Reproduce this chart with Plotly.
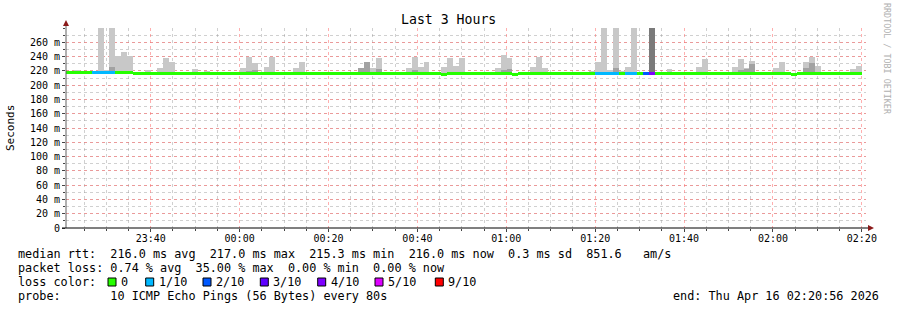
import pandas as pd
import plotly.graph_objects as go

N = None
# ---------------- data ----------------
TITLE = "Last 3 Hours"
END_TIME = "2026-04-16 02:20:56"
START_TIME = "2026-04-15 23:20:56"
FIRST_STEP_CENTER = "2026-04-15 23:20:43"   # centre of first (partial) 80 s step
STEP = "80s"

# median rtt per 80 s step (ms)
median = [
    217.5, 217.5, 217.5, 217.5, 217.5, 217.5, 217.5, 217.5, 217.5, 217.5, 217.5, 217.5, 216.0, 216.0, 216.0,
    216.0, 216.0, 216.0, 216.0, 216.0, 216.0, 216.0, 216.0, 216.0, 216.0, 216.0, 216.0, 216.0, 216.0, 216.0,
    216.0, 216.0, 216.0, 216.0, 216.0, 216.0, 216.0, 216.0, 216.0, 216.0, 216.0, 216.0, 216.0, 216.0, 216.0,
    216.0, 216.0, 216.0, 216.0, 216.0, 216.0, 216.0, 216.0, 216.0, 216.0, 216.0, 216.0, 216.0, 216.0, 216.0,
    216.0, 216.0, 216.0, 216.0, 215.0, 216.0, 216.0, 216.0, 216.0, 216.0, 216.0, 216.0, 216.0, 216.0, 216.0,
    216.0, 214.5, 216.0, 216.0, 216.0, 216.0, 216.0, 216.0, 216.0, 216.0, 216.0, 216.0, 216.0, 216.0, 216.0,
    216.0, 216.0, 216.0, 216.0, 216.0, 216.0, 216.0, 216.0, 216.0, 216.0, 216.0, 216.0, 216.0, 216.0, 216.0,
    216.0, 216.0, 216.0, 216.0, 216.0, 216.0, 216.0, 216.0, 216.0, 216.0, 216.0, 216.0, 216.0, 216.0, 216.0,
    216.0, 216.0, 216.0, 214.5, 216.0, 216.0, 216.0, 216.0, 216.0, 216.0, 216.0, 216.0, 216.0, 216.0, 216.0,
]
# lost pings (of 10) per step
loss = [
    0, 0, 0, 0, 0, 1, 1, 1, 1, 0, 0, 0, 0, 0, 0,
    0, 0, 0, 0, 0, 0, 0, 0, 0, 0, 0, 0, 0, 0, 0,
    0, 0, 0, 0, 0, 0, 0, 0, 0, 0, 0, 0, 0, 0, 0,
    0, 0, 0, 0, 0, 0, 0, 0, 0, 0, 0, 0, 0, 0, 0,
    0, 0, 0, 0, 0, 0, 0, 0, 0, 0, 0, 0, 0, 0, 0,
    0, 0, 0, 0, 0, 0, 0, 0, 0, 0, 0, 0, 0, 0, 0,
    1, 1, 1, 1, 0, 1, 1, 0, 2, 4, 0, 0, 0, 0, 0,
    0, 0, 0, 0, 0, 0, 0, 0, 0, 0, 0, 0, 0, 0, 0,
    0, 0, 0, 0, 0, 0, 0, 0, 0, 0, 0, 0, 0, 0, 0,
]
# smoke: max ping (outer, light shade)
smoke_max = [
    N, N, 221, N, N, N, 300, 221, 300, 241, 246, 240.5, N, N, 221,
    N, 224, 237.5, 233, N, N, N, 222, N, 220, N, N, N, N, N,
    224, 239.5, 231, N, 225, 239, N, N, N, 224, 233, N, N, N, N,
    N, N, N, N, N, 224, 232, 224, 238.5, N, N, N, N, 224, 239,
    225, 232, N, N, 225, 238, 227, 238, N, N, N, N, N, 224, 242,
    238, N, N, N, 225, 239.5, 224, N, N, N, N, N, N, N, 220,
    232, 300, 221, 300, 220, 225, 300, N, N, 300, N, N, 222, N, N,
    N, N, 225, 237, N, N, N, N, 225, 237, 224, 234, N, N, N,
    224, 232, N, N, N, 232, 239.5, 227, N, N, N, N, N, 222, 227,
]
# smoke: inner pings (darker shade)
smoke_dark = [
    N, N, N, N, N, N, N, N, 226, N, N, N, N, N, N,
    N, N, N, N, N, N, N, N, N, N, N, N, N, N, N,
    N, 220, 221, N, N, N, N, N, N, N, N, N, N, N, N,
    N, N, N, N, N, 224, 232, N, 223, N, N, N, N, N, 221,
    N, N, N, N, N, N, N, N, N, N, N, N, N, N, 221,
    222, N, N, N, N, N, N, N, N, N, N, N, N, N, N,
    N, N, N, 224, N, N, N, N, N, N, N, N, N, N, N,
    N, N, N, N, N, N, N, N, N, 221, 222, 230, N, N, N,
    N, N, N, N, N, 224, 231, N, N, N, N, N, N, N, N,
]
# smoke when few pings came back (darkest shade)
smoke_deep = [
    N, N, N, N, N, N, N, N, N, N, N, N, N, N, N,
    N, N, N, N, N, N, N, N, N, N, N, N, N, N, N,
    N, N, N, N, N, N, N, N, N, N, N, N, N, N, N,
    N, N, N, N, N, N, N, N, N, N, N, N, N, N, N,
    N, N, N, N, N, N, N, N, N, N, N, N, N, N, N,
    N, N, N, N, N, N, N, N, N, N, N, N, N, N, N,
    N, N, N, N, N, N, N, N, N, 300, N, N, N, N, N,
    N, N, N, N, N, N, N, N, N, N, N, N, N, N, N,
    N, N, N, N, N, N, N, N, N, N, N, N, N, N, N,
]

Y_TICKS = [0, 20, 40, 60, 80, 100, 120, 140, 160, 180, 200, 220, 240, 260]
Y_LABELS = ["0", "20 m", "40 m", "60 m", "80 m", "100 m", "120 m", "140 m", "160 m",
            "180 m", "200 m", "220 m", "240 m", "260 m"]

RTT_STATS = ["216.0", "217.0", "215.3", "216.0", "0.3", "851.6"]
LOSS_STATS = ["0.74", "35.00", "0.00", "0.00"]
LOSS_LABELS = ["0", "1/10", "2/10", "3/10", "4/10", "5/10", "9/10"]
LOSS_COLORS = ["#26ff00", "#00b8ff", "#0059ff", "#5e00ff", "#7e00ff", "#dd00ff", "#ff0000"]
LOSS_LEVEL_INDEX = {0: 0, 1: 1, 2: 2, 3: 3, 4: 4, 5: 5, 6: 6, 7: 6, 8: 6, 9: 6, 10: 6}
PROBE = "10 ICMP Echo Pings (56 Bytes) every 80s"
END_TEXT = "end: Thu Apr 16 02:20:56 2026"

# ---------------- figure ----------------
n = len(median)
centers = pd.date_range(FIRST_STEP_CENTER, periods=n, freq=STEP)
BAR_W = 80000  # ms

L, R, T, B = 66, 31, 28, 82
W, H = 897, 310
PW, PH = W - L - R, H - T - B


def px(x):
    return (x - L) / PW


def py(y):
    return (T + PH - y) / PH


MONO = "DejaVu Sans Mono"

fig = go.Figure()


def span(top):
    return [None if t is None else t - m for t, m in zip(top, median)]


fig.add_trace(go.Bar(x=centers, y=span(smoke_max), base=median, width=BAR_W,
                     marker=dict(color="#c8c8c8", line=dict(width=0)), hoverinfo="skip"))
fig.add_trace(go.Bar(x=centers, y=span(smoke_dark), base=median, width=BAR_W,
                     marker=dict(color="#a2a2a2", line=dict(width=0)), hoverinfo="skip"))
fig.add_trace(go.Bar(x=centers, y=span(smoke_deep), base=median, width=BAR_W,
                     marker=dict(color="#7a7a7a", line=dict(width=0)), hoverinfo="skip"))

LINE_H = 4.2
line_colors = [LOSS_COLORS[LOSS_LEVEL_INDEX[v]] for v in loss]
fig.add_trace(go.Bar(x=centers, y=[LINE_H] * n, base=[m - LINE_H / 2 for m in median], width=BAR_W,
                     marker=dict(color=line_colors, line=dict(width=0)), hoverinfo="skip"))

MAJ_GRID = "rgba(255,110,110,0.55)"
MIN_GRID = "rgba(150,150,150,0.45)"

fig.update_layout(
    width=W, height=H, margin=dict(l=L, r=R, t=T, b=B),
    paper_bgcolor="white", plot_bgcolor="white",
    barmode="overlay", bargap=0, showlegend=False,
    font=dict(family=MONO, color="#000"),
    xaxis=dict(
        type="date", range=[START_TIME, END_TIME],
        tick0="2026-04-15 23:40:00", dtick=1200000, tickformat="%H:%M",
        showgrid=True, gridcolor=MAJ_GRID, griddash="dot", gridwidth=1,
        minor=dict(tick0="2026-04-15 23:40:00", dtick=300000, showgrid=True,
                   gridcolor=MIN_GRID, griddash="dot", gridwidth=1,
                   ticks="outside", ticklen=2, tickcolor="#444"),
        ticks="outside", ticklen=3, tickcolor="#444",
        tickfont=dict(family=MONO, size=10, color="#000"),
        ticklabelstandoff=-2,
        showline=False, zeroline=False, fixedrange=True,
    ),
    yaxis=dict(
        range=[0, 280], tickmode="array", tickvals=Y_TICKS, ticktext=Y_LABELS,
        showgrid=True, gridcolor=MAJ_GRID, griddash="dot", gridwidth=1,
        minor=dict(tick0=0, dtick=10, showgrid=True, gridcolor=MIN_GRID, griddash="dot",
                   gridwidth=1, ticks="outside", ticklen=2, tickcolor="#444"),
        ticks="outside", ticklen=3, tickcolor="#444",
        tickfont=dict(family=MONO, size=10, color="#000"),
        showline=False, zeroline=False, fixedrange=True,
    ),
)

shapes = []
# y axis line + arrow
shapes.append(dict(type="line", xref="paper", yref="paper", x0=0, x1=0, y0=0, y1=py(22),
                   line=dict(color="#606060", width=1), layer="above"))
shapes.append(dict(type="path", xref="paper", yref="paper",
                   path=f"M {px(63)} {py(26)} L {px(69)} {py(26)} L {px(66)} {py(20)} Z",
                   fillcolor="#8b1a1a", line=dict(width=0), layer="above"))
# x axis line + arrow
shapes.append(dict(type="line", xref="paper", yref="paper", x0=px(62), x1=px(870), y0=0, y1=0,
                   line=dict(color="#000", width=1), layer="above"))
shapes.append(dict(type="path", xref="paper", yref="paper",
                   path=f"M {px(868)} {py(225)} L {px(868)} {py(231)} L {px(874)} {py(228)} Z",
                   fillcolor="#8b1a1a", line=dict(width=0), layer="above"))

annotations = []


def text(x, y, s, size=11.8, anchor="left", color="#000", angle=0, yanchor="middle"):
    annotations.append(dict(xref="paper", yref="paper", x=px(x), y=py(y), text=s.replace(" ", "\u00a0"),
                            showarrow=False, xanchor=anchor, yanchor=yanchor, textangle=angle,
                            font=dict(family=MONO, size=size, color=color)))


text(448, 19, TITLE, size=13.2, anchor="center")
text(10, 128, "Seconds", size=11, anchor="center", angle=-90)
text(887, 59, "RRDTOOL / TOBI OETIKER", size=8.4, anchor="center", color="#b0b0b0", angle=90)

row1 = (f"median rtt:  {RTT_STATS[0]} ms avg  {RTT_STATS[1]} ms max  {RTT_STATS[2]} ms min  "
        f"{RTT_STATS[3]} ms now  {RTT_STATS[4]} ms sd  {RTT_STATS[5]}   am/s")
row2 = (f"packet loss: {LOSS_STATS[0]} % avg  {LOSS_STATS[1]} % max  {LOSS_STATS[2]} % min  "
        f"{LOSS_STATS[3]} % now")
text(16, 254, row1)
text(16, 268, row2)
text(16, 282, "loss color:")
text(16, 296, "probe:       " + PROBE)
text(881, 296, END_TEXT, anchor="right")

box_x = [108, 145.7, 203, 260.3, 317.7, 375, 435.3]
for bx, lab, col in zip(box_x, LOSS_LABELS, LOSS_COLORS):
    shapes.append(dict(type="rect", xref="paper", yref="paper", x0=px(bx), x1=px(bx + 8),
                       y0=py(286), y1=py(278), fillcolor=col, line=dict(color="#000", width=1)))
    text(bx + 11, 282, lab)

fig.update_layout(shapes=shapes, annotations=annotations)
fig.write_html("out.html")
